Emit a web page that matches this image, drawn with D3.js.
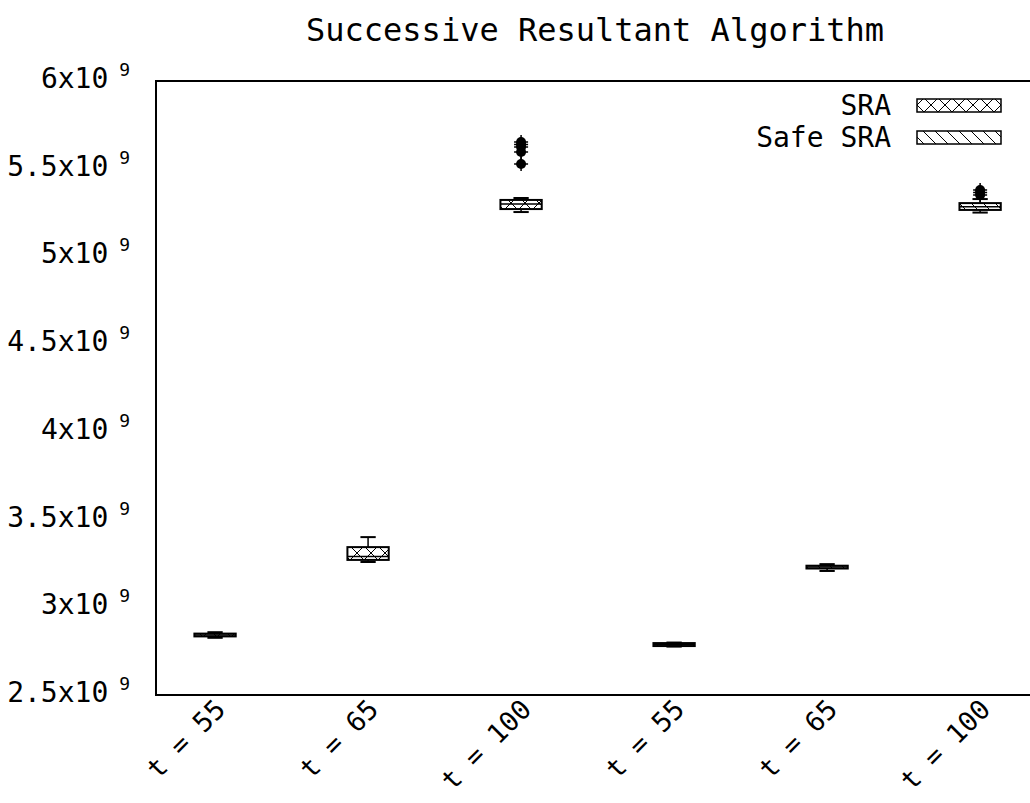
<!DOCTYPE html>
<html>
<head>
<meta charset="utf-8">
<script src="https://cdn.jsdelivr.net/npm/d3@7"></script>
<style>
  html, body { margin: 0; padding: 0; background: #fff; }
  svg { display: block; }
  text { font-family: "DejaVu Sans Mono", monospace; fill: #000; }
</style>
</head>
<body>
<svg id="chart" width="1030" height="803"></svg>
<script>
// Boxplot summaries of run time per configuration (values in units of 1e9)
const categories = ["t = 55", "t = 65", "t = 100", "t = 55", "t = 65", "t = 100"];
const seriesOf   = ["SRA", "SRA", "SRA", "Safe SRA", "Safe SRA", "Safe SRA"];
const whiskerLow  = [2.826, 3.258, 5.253, 2.776, 3.207, 5.250];
const quartile1   = [2.834, 3.270, 5.270, 2.779, 3.221, 5.265];
const medians     = [2.842, 3.290, 5.299, 2.787, 3.229, 5.283];
const quartile3   = [2.850, 3.343, 5.322, 2.796, 3.237, 5.304];
const whiskerHigh = [2.858, 3.400, 5.333, 2.799, 3.246, 5.327];
const outliers    = [[], [], [5.527, 5.595, 5.624, 5.638, 5.652], [], [], [5.350, 5.365, 5.379]];
const legendSeries = ["SRA", "Safe SRA"];
const yTicks = [2.5, 3, 3.5, 4, 4.5, 5, 5.5, 6];
const yTickText = ["2.5x10", "3x10", "3.5x10", "4x10", "4.5x10", "5x10", "5.5x10", "6x10"];
const exponent = "9";
const title = "Successive Resultant Algorithm";

const svg = d3.select("#chart");
const plotLeft = 156, plotTop = 81, plotBottom = 695, plotRight = 1030;

const x = d3.scaleLinear().domain([0.614, 6.326]).range([plotLeft, plotRight]);
const y = d3.scaleLinear().domain([2.5, 6]).range([plotBottom, plotTop]);
const boxW = 0.27, capW = 0.1;

// Fill patterns: crosshatch for SRA, back-slash hatching for Safe SRA
const patternId = { "SRA": "pat-cross", "Safe SRA": "pat-diag" };
const defs = svg.append("defs");
const pCross = defs.append("pattern").attr("id", patternId["SRA"])
  .attr("patternUnits", "userSpaceOnUse").attr("width", 14).attr("height", 14);
pCross.append("path").attr("d", "M0,0 L14,14 M14,0 L0,14")
  .attr("stroke", "#000").attr("stroke-width", 1);
const pDiag = defs.append("pattern").attr("id", patternId["Safe SRA"])
  .attr("patternUnits", "userSpaceOnUse").attr("width", 12).attr("height", 12);
pDiag.append("path").attr("d", "M-3,-3 L15,15 M-3,9 L3,15 M9,-3 L15,3")
  .attr("stroke", "#000").attr("stroke-width", 1);
const fillFor = s => `url(#${patternId[s]})`;

// Title
svg.append("text").attr("x", 595).attr("y", 41)
  .attr("text-anchor", "middle").style("font-size", "32px").text(title);

// Y tick labels with superscript exponent
const yl = svg.append("g");
yTicks.forEach((v, i) => {
  const t = yl.append("text").attr("x", 130).attr("y", y(v) + 7)
    .attr("text-anchor", "end").style("font-size", "28px");
  t.append("tspan").text(yTickText[i]);
  t.append("tspan").attr("dy", -12).style("font-size", "18px").text(" " + exponent);
});

// X tick labels, rotated
categories.forEach((c, i) => {
  svg.append("text")
    .attr("transform", `translate(${x(i + 1) + 12},${plotBottom + 16}) rotate(-45)`)
    .attr("text-anchor", "end").style("font-size", "27px").text(c);
});

// Boxplots
const g = svg.append("g");
categories.forEach((c, i) => {
  const cx = x(i + 1);
  const hw = (x(boxW) - x(0)) / 2, cw = (x(capW) - x(0)) / 2;
  const s = seriesOf[i];
  // whiskers
  g.append("line").attr("x1", cx).attr("x2", cx)
    .attr("y1", y(quartile3[i])).attr("y2", y(whiskerHigh[i]))
    .attr("stroke", "#000").attr("stroke-width", 1.5);
  g.append("line").attr("x1", cx).attr("x2", cx)
    .attr("y1", y(quartile1[i])).attr("y2", y(whiskerLow[i]))
    .attr("stroke", "#000").attr("stroke-width", 1.5);
  [whiskerHigh[i], whiskerLow[i]].forEach(v => {
    g.append("line").attr("x1", cx - cw).attr("x2", cx + cw)
      .attr("y1", y(v)).attr("y2", y(v))
      .attr("stroke", "#000").attr("stroke-width", 2);
  });
  // box
  g.append("rect").attr("x", cx - hw).attr("width", 2 * hw)
    .attr("y", y(quartile3[i])).attr("height", y(quartile1[i]) - y(quartile3[i]))
    .attr("fill", fillFor(s)).attr("stroke", "#000").attr("stroke-width", 2);
  g.append("line").attr("x1", cx - hw).attr("x2", cx + hw)
    .attr("y1", y(medians[i])).attr("y2", y(medians[i]))
    .attr("stroke", "#000").attr("stroke-width", 1.5);
  // outliers
  outliers[i].forEach(v => {
    g.append("circle").attr("cx", cx).attr("cy", y(v)).attr("r", 5).attr("fill", "#000");
    g.append("path").attr("d", `M${cx - 7},${y(v)} h14 M${cx},${y(v) - 7} v14`)
      .attr("stroke", "#000").attr("stroke-width", 1.5);
  });
});

// Border (left, bottom, top)
svg.append("path")
  .attr("d", `M${plotRight + 5},${plotTop} H${plotLeft} V${plotBottom} H${plotRight + 5}`)
  .attr("fill", "none").attr("stroke", "#000").attr("stroke-width", 2);

// Legend
const lg = svg.append("g");
legendSeries.forEach((s, i) => {
  const yc = 105 + i * 32;
  lg.append("text").attr("x", 891).attr("y", yc + 10)
    .attr("text-anchor", "end").style("font-size", "28px").text(s);
  lg.append("rect").attr("x", 917).attr("y", yc - 6).attr("width", 84).attr("height", 13)
    .attr("fill", fillFor(s)).attr("stroke", "#000").attr("stroke-width", 1.5);
});
</script>
</body>
</html>
